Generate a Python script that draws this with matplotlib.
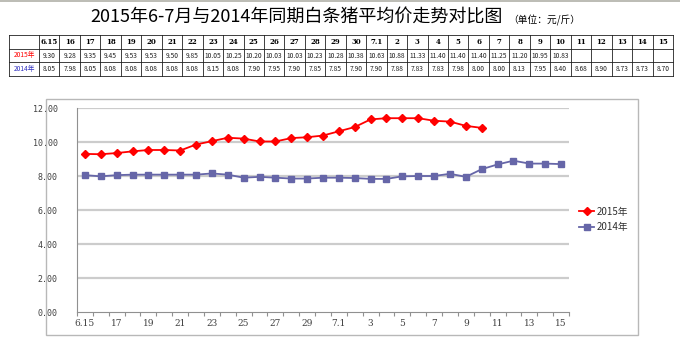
import matplotlib
matplotlib.use("Agg")
import matplotlib.pyplot as plt
from matplotlib.patches import Rectangle
from matplotlib.lines import Line2D
import numpy as np

plt.rcParams['font.family'] = ['Noto Sans CJK SC', 'DejaVu Sans']

# ---- data ----
dates = ["6.15", "16", "17", "18", "19", "20", "21", "22", "23", "24", "25",
         "26", "27", "28", "29", "30", "7.1", "2", "3", "4", "5", "6", "7",
         "8", "9", "10", "11", "12", "13", "14", "15"]
price_2015 = [9.30, 9.28, 9.35, 9.45, 9.53, 9.53, 9.50, 9.85, 10.05, 10.25,
              10.20, 10.03, 10.03, 10.23, 10.28, 10.38, 10.63, 10.88, 11.33,
              11.40, 11.40, 11.40, 11.25, 11.20, 10.95, 10.83]
price_2014 = [8.05, 7.98, 8.05, 8.08, 8.08, 8.08, 8.08, 8.08, 8.15, 8.08,
              7.90, 7.95, 7.90, 7.85, 7.85, 7.90, 7.90, 7.88, 7.83, 7.83,
              7.98, 8.00, 8.00, 8.13, 7.95, 8.40, 8.68, 8.90, 8.73, 8.73, 8.70]
series_names = ["2015年", "2014年"]
title = "2015年6-7月与2014年同期白条猪平均价走势对比图"
unit = "（单位：元/斤）"
y_ticks = [0, 2, 4, 6, 8, 10, 12]

C2015 = "#FF0000"
C2014 = "#6666A8"
W, H = 680, 347

fig = plt.figure(figsize=(W / 100, H / 100), dpi=100)


def fx(px):
    return px / W


def fy(py):
    return 1 - py / H


# ---- title ----
fig.text(fx(90), fy(18), title, fontsize=13, ha="left", va="center",
         color="#000000")
fig.text(fx(508), fy(20), unit, fontsize=7, ha="left", va="center",
         color="#000000")
fig.add_artist(Line2D([0, 1], [fy(1), fy(1)], color="#B0B0A8", lw=1.2))

# ---- data table ----
row_edges = [35, 49, 62, 76]
col0_left, col0_right, table_right = 9, 39, 673
ncol = len(dates)
cw = (table_right - col0_right) / ncol
col_edges = [col0_left, col0_right] + [col0_right + cw * (i + 1) for i in range(ncol)]

for y in row_edges:
    fig.add_artist(Line2D([fx(col0_left), fx(table_right)], [fy(y), fy(y)],
                          color="#202020", lw=0.6))
for x in col_edges:
    fig.add_artist(Line2D([fx(x), fx(x)], [fy(row_edges[0]), fy(row_edges[-1])],
                          color="#202020", lw=0.6))

row_mid = [(row_edges[i] + row_edges[i + 1]) / 2 for i in range(3)]
fig.text(fx((col0_left + col0_right) / 2), fy(row_mid[1]), series_names[0],
         fontsize=4.8, color=C2015, ha="center", va="center")
fig.text(fx((col0_left + col0_right) / 2), fy(row_mid[2]), series_names[1],
         fontsize=4.8, color="#3030C0", ha="center", va="center")
for i, d in enumerate(dates):
    cx = fx(col0_right + cw * (i + 0.5))
    fig.text(cx, fy(row_mid[0]), d, fontsize=5, fontweight="bold",
             ha="center", va="center", family="DejaVu Serif")
    if i < len(price_2015):
        fig.text(cx, fy(row_mid[1]), f"{price_2015[i]:.2f}", fontsize=4.8,
                 ha="center", va="center", color="#202020")
    fig.text(cx, fy(row_mid[2]), f"{price_2014[i]:.2f}", fontsize=4.8,
             ha="center", va="center", color="#202020")

# ---- chart frame ----
fig.add_artist(Rectangle((fx(46), fy(335)), fx(638) - fx(46), fy(99) - fy(335),
                         transform=fig.transFigure, fill=False,
                         edgecolor="#B8B8B8", lw=1.0))

# ---- plot ----
ax = fig.add_axes([fx(77), fy(312), fx(569) - fx(77), fy(108) - fy(312)])
n = len(dates)
x_all = np.arange(n)
ax.set_xlim(-0.5, n - 0.5)
ax.set_ylim(0, 12)

for yv in y_ticks[1:]:
    ax.axhline(yv, color="#CCCCCC", lw=1.6, zorder=1)

ax.plot(x_all[:len(price_2015)], price_2015, color=C2015, lw=1.3,
        marker="D", markersize=4.5, zorder=3, label=series_names[0])
ax.plot(x_all, price_2014, color=C2014, lw=1.3, marker="s", markersize=5,
        zorder=3, label=series_names[1])

ax.set_yticks(y_ticks)
ax.set_yticklabels([f"{v:.2f}" for v in y_ticks], fontsize=6,
                   family="DejaVu Sans Mono", color="#404040")
ax.tick_params(axis="y", length=0, pad=14)

ax.set_xticks(np.arange(-0.5, n, 1.0))
ax.set_xticklabels([])
ax.set_xticks(x_all[::2], minor=True)
ax.set_xticklabels(dates[::2], minor=True, fontsize=6.5, family="DejaVu Serif",
                   color="#404040")
ax.tick_params(axis="x", which="major", length=3, direction="out",
               color="#909090", width=0.8)
ax.tick_params(axis="x", which="minor", length=0, pad=5)

for s in ["top", "right"]:
    ax.spines[s].set_visible(False)
ax.spines["left"].set_color("#909090")
ax.spines["bottom"].set_color("#909090")
ax.spines["left"].set_linewidth(0.8)
ax.spines["bottom"].set_linewidth(0.8)

leg = fig.legend(loc="upper left", bbox_to_anchor=(fx(574), fy(202)),
                 frameon=False, fontsize=7, handlelength=1.6,
                 handletextpad=0.2, labelspacing=0.55, borderpad=0)
for t in leg.get_texts():
    t.set_color("#303030")

fig.savefig("out.png", dpi=100, facecolor="white")
